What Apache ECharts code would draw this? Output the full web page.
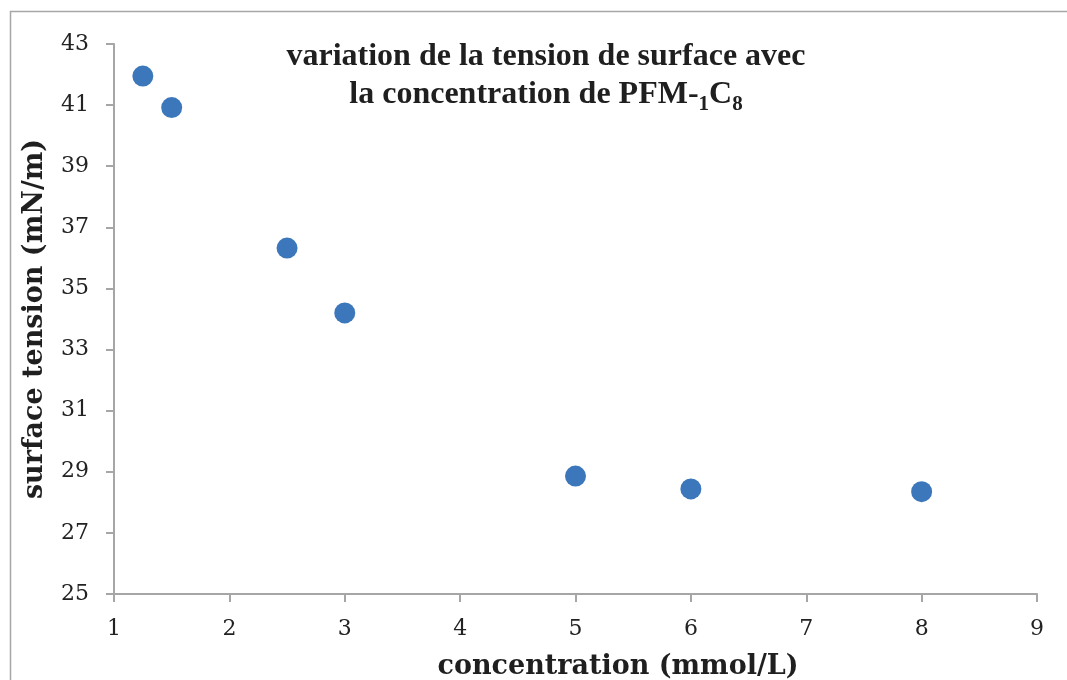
<!DOCTYPE html>
<html>
<head>
<meta charset="utf-8">
<script src="https://cdn.jsdelivr.net/npm/echarts@6/dist/echarts.min.js"></script>
<style>html,body{margin:0;padding:0;background:#fff}#c{width:1067px;height:680px}</style>
</head>
<body>
<div id="c"></div>
<script>
var concentration = [1.25, 1.5, 2.5, 3, 5, 6, 8];
var surfaceTension = [41.95, 40.92, 36.32, 34.2, 28.86, 28.44, 28.35];
var xTicks = [1, 2, 3, 4, 5, 6, 7, 8, 9];
var yTicks = [25, 27, 29, 31, 33, 35, 37, 39, 41, 43];

var points = concentration.map(function (c, i) { return [c, surfaceTension[i]]; });

var chart = echarts.init(document.getElementById('c'), null, { renderer: 'canvas' });
var tickFont = 'DejaVu Serif';
var axisColor = '#a6a6a6';
chart.setOption({
  animation: false,
  backgroundColor: '#ffffff',
  graphic: [{
    type: 'rect', silent: true, z: -1,
    shape: { x: 10.5, y: 11.5, width: 1200, height: 800 },
    style: { fill: 'none', stroke: '#a6a6a6', lineWidth: 1.5 }
  }],
  title: {
    text: 'variation de la tension de surface avec\n{a|la concentration de PFM-}{s|1}{a|C}{s|8}',
    left: 541, top: 34, textAlign: 'center',
    textStyle: {
      fontFamily: 'Liberation Serif', fontWeight: 'bold', fontSize: 32, color: '#1f1f1f', lineHeight: 36,
      rich: {
        a: { fontFamily: 'Liberation Serif', fontWeight: 'bold', fontSize: 32, color: '#1f1f1f', lineHeight: 36, verticalAlign: 'bottom' },
        s: { fontFamily: 'Liberation Serif', fontWeight: 'bold', fontSize: 21, color: '#1f1f1f', lineHeight: 20, verticalAlign: 'bottom', padding: [0, 0, -4, 0] }
      }
    }
  },
  grid: { left: 114, right: 30, top: 44, bottom: 86, containLabel: false, outerBoundsMode: 'none' },
  xAxis: {
    type: 'value', min: xTicks[0], max: xTicks[xTicks.length - 1], interval: 1,
    name: 'concentration (mmol/L)', nameLocation: 'middle', nameGap: 59,
    nameTextStyle: { fontFamily: 'DejaVu Serif', fontWeight: 'bold', fontSize: 27, color: '#1f1f1f', padding: [0, 0, 0, 85] },
    axisLine: { show: true, onZero: false, lineStyle: { color: axisColor, width: 2 } },
    axisTick: { show: true, inside: false, length: 8, lineStyle: { color: axisColor, width: 2 } },
    axisLabel: { fontFamily: tickFont, fontSize: 22, color: '#222', margin: 24 },
    splitLine: { show: false }
  },
  yAxis: {
    type: 'value', min: yTicks[0], max: yTicks[yTicks.length - 1], interval: 2,
    name: 'surface tension (mN/m)', nameLocation: 'middle', nameGap: 66, nameRotate: 90,
    nameTextStyle: { fontFamily: 'DejaVu Serif', fontWeight: 'bold', fontSize: 27, color: '#1f1f1f' },
    axisLine: { show: true, onZero: false, lineStyle: { color: axisColor, width: 2 } },
    axisTick: { show: true, inside: false, length: 8, lineStyle: { color: axisColor, width: 2 } },
    axisLabel: { fontFamily: tickFont, fontSize: 22, color: '#222', margin: 25 },
    splitLine: { show: false }
  },
  series: [{
    type: 'scatter', data: points, symbol: 'circle', symbolSize: 21,
    itemStyle: { color: '#3c77bb', opacity: 1 }
  }]
});
</script>
</body>
</html>
